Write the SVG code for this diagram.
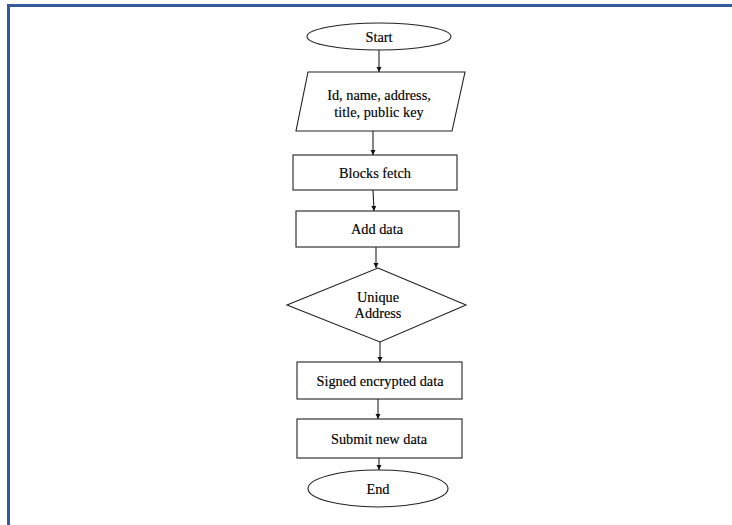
<svg xmlns="http://www.w3.org/2000/svg" width="732" height="525" viewBox="0 0 732 525">
<style>
.shape{fill:#fff;stroke:#222;stroke-width:1.1}
.lbl{font-family:"Liberation Serif","Times New Roman",serif;font-size:14.3px;fill:#000;stroke:#000;stroke-width:0.15;text-anchor:middle;dominant-baseline:central}
.conn{stroke:#222;stroke-width:1.1;fill:none;marker-end:url(#ah)}
.frame{stroke:#35599a;stroke-width:3;fill:none}
</style>
<defs>
<marker id="ah" viewBox="0 0 10 10" refX="10" refY="5" markerWidth="5" markerHeight="6" markerUnits="userSpaceOnUse" orient="auto">
<path d="M0,0 L10,5 L0,10 Z" fill="#111"/>
</marker>
</defs>
<rect width="732" height="525" fill="#fff"/>
<path class="frame" d="M8.5,525 L8.5,5.5 L732,5.5"/>
<g id="start">
<ellipse class="shape" cx="379" cy="36.5" rx="72" ry="13.5"/>
<text class="lbl" x="379" y="36.5">Start</text>
</g>
<g id="input">
<polygon class="shape" points="308,72 465,72 452,131 296,131"/>
<text class="lbl" x="379" y="95">Id, name, address,</text>
<text class="lbl" x="379" y="112">title, public key</text>
</g>
<g id="blocks-fetch">
<rect class="shape" x="293" y="155" width="164" height="35"/>
<text class="lbl" x="375" y="172.5">Blocks fetch</text>
</g>
<g id="add-data">
<rect class="shape" x="296" y="211" width="163" height="36"/>
<text class="lbl" x="377" y="229">Add data</text>
</g>
<g id="unique-address">
<polygon class="shape" points="378,268 466,305 380,342 287,305"/>
<text class="lbl" x="378" y="297">Unique</text>
<text class="lbl" x="378" y="313">Address</text>
</g>
<g id="signed">
<rect class="shape" x="297" y="362" width="165" height="37"/>
<text class="lbl" x="380" y="380.5">Signed encrypted data</text>
</g>
<g id="submit">
<rect class="shape" x="297" y="419" width="165" height="39"/>
<text class="lbl" x="379" y="438.5">Submit new data</text>
</g>
<g id="end">
<ellipse class="shape" cx="378" cy="488.5" rx="70" ry="18.5"/>
<text class="lbl" x="378" y="488.5">End</text>
</g>
<g id="connectors">
<line class="conn" x1="379" y1="50" x2="379" y2="72"/>
<line class="conn" x1="373" y1="131" x2="373" y2="155"/>
<line class="conn" x1="373" y1="190" x2="374" y2="211"/>
<line class="conn" x1="376" y1="247" x2="376" y2="268"/>
<line class="conn" x1="380" y1="342" x2="380" y2="362"/>
<line class="conn" x1="378" y1="399" x2="378" y2="419"/>
<line class="conn" x1="379" y1="458" x2="379" y2="470"/>
</g>
</svg>
